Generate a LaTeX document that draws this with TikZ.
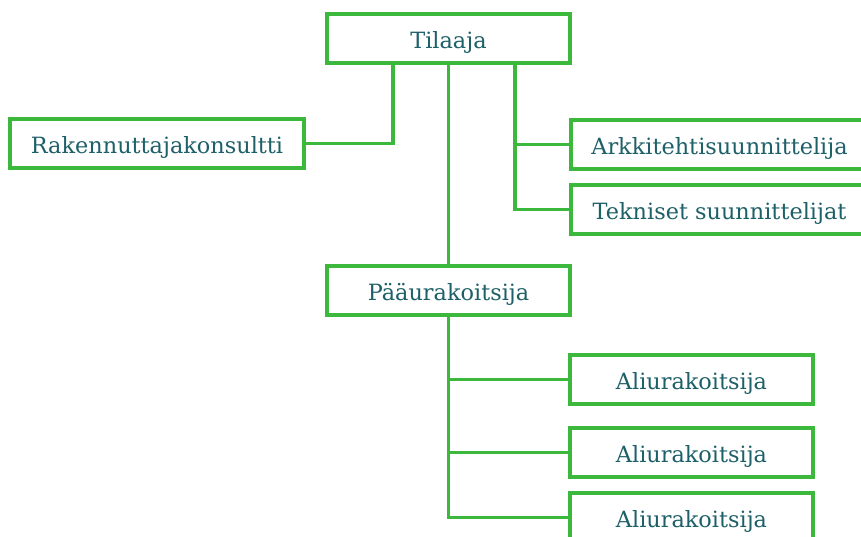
\documentclass[tikz,border=0pt]{standalone}
\usepackage{fontspec}
\setmainfont{DejaVu Serif}
\definecolor{boxgreen}{RGB}{60,184,60}
\definecolor{labelteal}{RGB}{30,96,104}
\begin{document}
\begin{tikzpicture}[x=1pt,y=-1pt,
  orgbox/.style={draw=boxgreen, line width=3.4pt, fill=white, inner sep=0pt,
    minimum height=49pt, text height=19pt, text depth=0pt,
    text=labelteal, font=\fontsize{22.4}{26}\selectfont},
  link/.style={draw=boxgreen, line width=3.4pt}]
\clip (0,0) rectangle (861,536);
\fill[white] (0,0) rectangle (861,536);

% boxes
\node[orgbox, minimum width=243pt] (tilaaja) at (448.5,38.5) {Tilaaja};
\node[orgbox, minimum width=294pt] (rak) at (157,143.5) {Rakennuttajakonsultti};
\node[orgbox, minimum width=297pt] (ark) at (719.5,144.5) {Arkkitehtisuunnittelija};
\node[orgbox, minimum width=297pt] (tek) at (719.5,209.5) {Tekniset suunnittelijat};
\node[orgbox, minimum width=243pt] (paa) at (448.5,290.5) {Pääurakoitsija};
\node[orgbox, minimum width=243pt] (ali1) at (691.5,379.5) {Aliurakoitsija};
\node[orgbox, minimum width=243pt] (ali2) at (691.5,452.5) {Aliurakoitsija};
\node[orgbox, minimum width=243pt] (ali3) at (691.5,517.5) {Aliurakoitsija};

% connectors
\draw[link] (rak.east) -| ([xshift=-55.5pt]tilaaja.south);
\draw[link] (tilaaja.south) -- (paa.north);
\draw[link] ([xshift=66.5pt]tilaaja.south) |- (ark.west);
\draw[link] ([xshift=66.5pt]tilaaja.south) |- (tek.west);
\draw[link] (paa.south) |- (ali1.west);
\draw[link] (paa.south) |- (ali2.west);
\draw[link] (paa.south) |- (ali3.west);
\end{tikzpicture}
\end{document}
